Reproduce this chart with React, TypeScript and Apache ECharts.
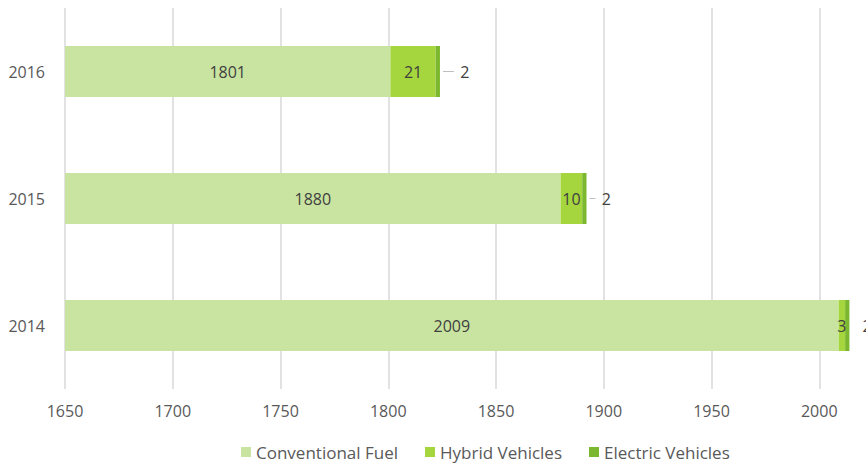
import React, { useEffect, useRef } from "react";
import * as echarts from "echarts";

const years = ["2014", "2015", "2016"];
const conventional = [2009, 1880, 1801];
const hybrid = [3, 10, 21];
const electric = [2, 2, 2];
const seriesNames = ["Conventional Fuel", "Hybrid Vehicles", "Electric Vehicles"];
const colors = ["#c9e4a1", "#a5d63d", "#7cb82f"];

export default function App() {
  const ref = useRef<HTMLDivElement>(null);
  useEffect(() => {
    if (!ref.current) return;
    const chart = echarts.init(ref.current, null, { renderer: "svg" });
    const font = "'Open Sans', sans-serif";
    const inside = {
      show: true,
      position: "inside",
      color: "#404040",
      fontSize: 16,
      fontFamily: font,
    };
    const leaderFmt = ["{gap|}{v|", "{short|}  {v|", "{long|}  {v|"];
    chart.setOption({
      animation: false,
      textStyle: { fontFamily: font },
      grid: { left: 65, top: 8, width: 862, height: 381, containLabel: false },
      legend: {
        left: 241,
        top: 442,
        padding: 0,
        itemWidth: 10,
        itemHeight: 10,
        itemGap: 27,
        icon: "rect",
        textStyle: { color: "#595959", fontSize: 17, fontFamily: font, lineHeight: 20 },
        data: seriesNames,
      },
      xAxis: {
        type: "value",
        min: 1650,
        max: 2050,
        interval: 50,
        axisLine: { show: false },
        axisTick: { show: false },
        splitLine: { lineStyle: { color: "#d9d9d9", width: 1.5 } },
        axisLabel: {
          color: "#595959",
          fontSize: 16,
          fontFamily: font,
          margin: 14,
          showMaxLabel: false,
          formatter: (v: number) => String(v),
        },
      },
      yAxis: {
        type: "category",
        data: years,
        axisLine: { show: false },
        axisTick: { show: false },
        axisLabel: { color: "#595959", fontSize: 16, fontFamily: font, margin: 20 },
      },
      series: [
        {
          name: seriesNames[0],
          type: "bar",
          stack: "total",
          barWidth: 51,
          data: conventional,
          itemStyle: { color: colors[0] },
          label: inside,
        },
        {
          name: seriesNames[1],
          type: "bar",
          stack: "total",
          barWidth: 51,
          data: hybrid,
          itemStyle: { color: colors[1] },
          label: inside,
        },
        {
          name: seriesNames[2],
          type: "bar",
          stack: "total",
          barWidth: 51,
          data: electric,
          itemStyle: { color: colors[2] },
          label: {
            show: true,
            position: "right",
            distance: 3,
            formatter: (p: any) => leaderFmt[p.dataIndex] + p.value + "}",
            rich: {
              gap: { width: 10, height: 1 },
              short: { width: 6, height: 1, backgroundColor: "#bfbfbf" },
              long: { width: 11, height: 1, backgroundColor: "#bfbfbf" },
              v: { color: "#404040", fontSize: 16, fontFamily: font },
            },
          },
        },
      ],
    });
    return () => chart.dispose();
  }, []);
  return (
    <div style={{ width: 866, height: 464, position: "absolute", left: 0, top: 0, overflow: "hidden" }}>
      <div ref={ref} style={{ width: 960, height: 464 }} />
    </div>
  );
}
